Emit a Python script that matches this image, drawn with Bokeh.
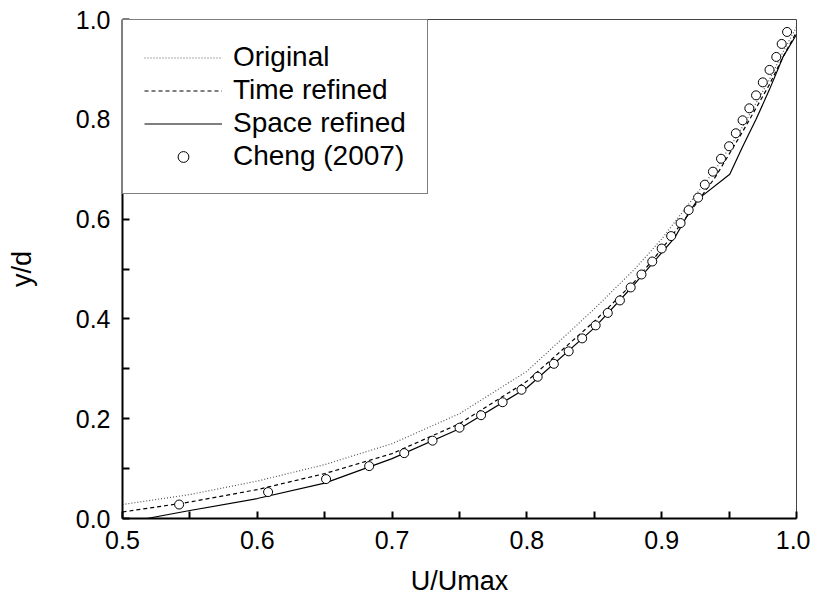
from bokeh.plotting import figure
from bokeh.models import FixedTicker, Legend, LegendItem, Range1d, PrintfTickFormatter
from bokeh.embed import file_html
from bokeh.resources import INLINE

# Original (dotted)
orig_x = [0.50, 0.55, 0.60, 0.65, 0.70, 0.75, 0.80, 0.85, 0.88, 0.90, 0.92, 0.94, 0.96, 0.98, 0.99, 1.00]
orig_y = [0.028, 0.048, 0.075, 0.108, 0.150, 0.210, 0.295, 0.420, 0.500, 0.560, 0.630, 0.700, 0.785, 0.880, 0.935, 0.985]

# Time refined (dashed)
time_x = [0.50, 0.55, 0.60, 0.65, 0.70, 0.75, 0.80, 0.85, 0.88, 0.90, 0.92, 0.94, 0.96, 0.98, 0.99, 1.00]
time_y = [0.013, 0.033, 0.058, 0.090, 0.130, 0.190, 0.275, 0.395, 0.475, 0.540, 0.610, 0.685, 0.775, 0.870, 0.925, 0.975]

# Space refined (solid)
space_x = [0.518, 0.55, 0.60, 0.65, 0.70, 0.75, 0.80, 0.85, 0.88, 0.91, 0.92, 0.927, 0.9505, 0.96, 0.97, 0.98, 0.99, 1.00]
space_y = [0.000, 0.016, 0.040, 0.071, 0.120, 0.180, 0.262, 0.382, 0.470, 0.564, 0.612, 0.640, 0.690, 0.745, 0.800, 0.860, 0.925, 0.970]

# Cheng (2007) (circles)
cheng_x = [0.542, 0.608, 0.651, 0.683, 0.709, 0.730, 0.750, 0.766, 0.782, 0.796,
           0.808, 0.820, 0.831, 0.841, 0.851, 0.860, 0.869, 0.877, 0.885, 0.893,
           0.900, 0.907, 0.914, 0.920, 0.927, 0.932, 0.938, 0.944, 0.950, 0.955,
           0.960, 0.965, 0.970, 0.975, 0.980, 0.985, 0.989, 0.993]
cheng_y = [0.028, 0.053, 0.079, 0.105, 0.131, 0.156, 0.182, 0.207, 0.233, 0.258,
           0.284, 0.310, 0.335, 0.361, 0.387, 0.412, 0.437, 0.463, 0.489, 0.515,
           0.541, 0.566, 0.592, 0.618, 0.643, 0.669, 0.695, 0.721, 0.746, 0.772,
           0.798, 0.822, 0.848, 0.874, 0.899, 0.925, 0.951, 0.975]

x_ticks = [0.5, 0.6, 0.7, 0.8, 0.9, 1.0]
x_minor = [0.55, 0.65, 0.75, 0.85, 0.95]
y_ticks = [0.0, 0.2, 0.4, 0.6, 0.8, 1.0]
y_minor = [0.1, 0.3, 0.5, 0.7, 0.9]

FONT = "Liberation Sans"

p = figure(width=810, height=600, output_backend="svg", toolbar_location=None,
           x_range=Range1d(0.5, 1.0), y_range=Range1d(0.0, 1.0),
           min_border_left=122, min_border_right=14, min_border_top=19, min_border_bottom=82)
p.xgrid.visible = False
p.ygrid.visible = False
p.outline_line_color = "#444444"
p.outline_line_width = 1
p.background_fill_color = "white"
p.border_fill_color = "white"

r_orig = p.line(orig_x, orig_y, line_color="#555555", line_width=1.2, line_dash="1 2")
r_time = p.line(time_x, time_y, line_color="black", line_width=1.2, line_dash="4 3")
r_space = p.line(space_x, space_y, line_color="black", line_width=1.2)
r_cheng = p.scatter(cheng_x, cheng_y, marker="circle", size=9, fill_color="white",
                    line_color="black", line_width=1)

for ax, ticks, minor in ((p.xaxis[0], x_ticks, x_minor), (p.yaxis[0], y_ticks, y_minor)):
    ax.ticker = FixedTicker(ticks=ticks, minor_ticks=minor)
    ax.formatter = PrintfTickFormatter(format="%.1f")
    ax.axis_line_width = 2
    ax.axis_line_color = "black"
    ax.major_tick_in = 7
    ax.major_tick_out = 0
    ax.minor_tick_in = 7
    ax.minor_tick_out = 0
    ax.major_tick_line_width = 2
    ax.minor_tick_line_width = 2
    ax.major_tick_line_color = "black"
    ax.minor_tick_line_color = "black"
    ax.major_label_text_font = FONT
    ax.major_label_text_font_size = "25px"
    ax.major_label_text_color = "black"
    ax.axis_label_text_font = FONT
    ax.axis_label_text_font_size = "27px"
    ax.axis_label_text_font_style = "normal"
    ax.axis_label_text_color = "black"

p.xaxis.axis_label = "U/Umax"
p.yaxis.axis_label = "y/d"
p.xaxis.major_label_standoff = 12
p.yaxis.major_label_standoff = 12
p.xaxis.axis_label_standoff = 14
p.yaxis.axis_label_standoff = 36

legend = Legend(items=[
    LegendItem(label="Original", renderers=[r_orig]),
    LegendItem(label="Time refined", renderers=[r_time]),
    LegendItem(label="Space refined", renderers=[r_space]),
    LegendItem(label="Cheng (2007)", renderers=[r_cheng]),
], location="top_left", margin=0, padding=21, spacing=1,
    glyph_width=78, glyph_height=27, label_height=27, label_standoff=11,
    label_text_font=FONT, label_text_font_size="28px", label_text_color="black",
    border_line_color="black", border_line_width=1, background_fill_color="white",
    background_fill_alpha=1.0)
p.add_layout(legend)

open("out.html", "w").write(file_html(p, INLINE))
